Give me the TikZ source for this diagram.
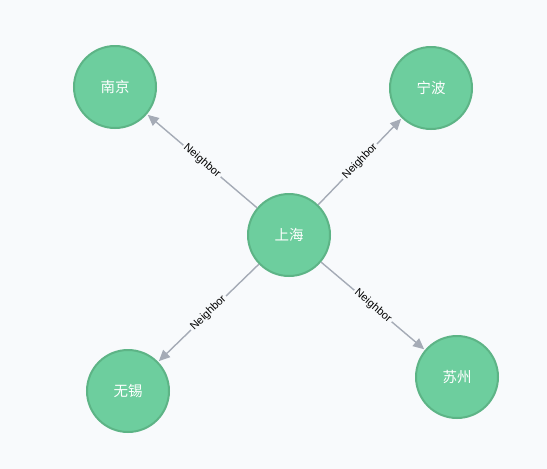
\documentclass[tikz,border=0pt]{standalone}
\usepackage{fontspec}
\setmainfont{Liberation Sans}
\newfontfamily\cjk{Noto Sans CJK SC}
\usetikzlibrary{arrows.meta}
\definecolor{bgc}{HTML}{F8FAFC}
\definecolor{nfill}{HTML}{6DCE9E}
\definecolor{nline}{HTML}{5DB486}
\definecolor{ecol}{HTML}{A5ABB6}
\begin{document}
\begin{tikzpicture}[x=1pt,y=-1pt,
  city/.style={circle,fill=nfill,draw=nline,line width=2pt,minimum size=82pt,inner sep=0pt,text=white,font=\cjk\fontsize{14.5}{16}\selectfont},
  rel/.style={draw=ecol,line width=1.4pt,-{Triangle[length=11pt,width=10pt]},shorten >=1pt},
  lab/.style={sloped,fill=bgc,inner sep=2pt,font=\fontsize{11}{12}\selectfont,text=black}]
\fill[bgc] (0,0) rectangle (547,469);
\useasboundingbox (0,0) rectangle (547,469);
\node[city] (sh) at (289,235) {上海};
\node[city] (nj) at (115,87) {南京};
\node[city] (nb) at (431,88) {宁波};
\node[city] (wx) at (128,391) {无锡};
\node[city] (sz) at (457,377) {苏州};
\draw[rel] (sh) -- node[lab] {Neighbor} (nj);
\draw[rel] (sh) -- node[lab] {Neighbor} (nb);
\draw[rel] (sh) -- node[lab] {Neighbor} (wx);
\draw[rel] (sh) -- node[lab] {Neighbor} (sz);
\end{tikzpicture}
\end{document}
